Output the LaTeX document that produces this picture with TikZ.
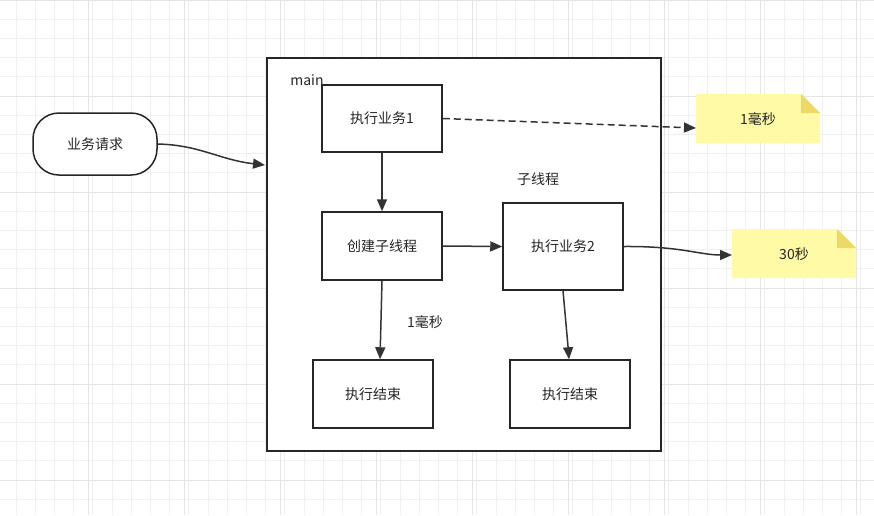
\documentclass[tikz,border=0pt]{standalone}
\usepackage{fontspec}
\setmainfont{Noto Sans CJK SC}
\usetikzlibrary{arrows.meta}
\begin{document}
\begin{tikzpicture}[x=1pt,y=-1pt,
  box/.style={draw=black!85,line width=1.5pt,fill=white,minimum width=120pt,inner sep=0pt,font=\fontsize{14}{16}\selectfont,text=black!85},
  lbl/.style={font=\fontsize{14}{16}\selectfont,text=black!85},
  arr/.style={draw=black!80,line width=1.5pt,-{Triangle[length=12pt,width=10pt]}}]
\useasboundingbox (0,0) rectangle (874,515);
\fill[white] (0,0) rectangle (874,515);
\foreach \i in {0,...,46} {\draw[black!6,line width=0.8pt] ({-3.2+\i*19.2},0) -- ++(0,515);}
\foreach \i in {0,...,27} {\draw[black!6,line width=0.8pt] (0,{\i*19.2}) -- ++(874,0);}
\foreach \i in {0,...,9} {\draw[black!10,line width=1pt] ({-8+\i*96},0) -- ++(0,515);}
\foreach \i in {0,...,5} {\draw[black!10,line width=1pt] (0,{\i*96}) -- ++(874,0);}
\node[box,minimum width=394pt,minimum height=393pt,anchor=north west] (main) at (266,57) {};
\node[lbl] (mainlbl) at (307,80) {main};
\node[box,minimum height=67pt] (t1) at (382,118.5) {执行业务1};
\node[box,minimum height=68pt] (cr) at (382,246) {创建子线程};
\node[box,minimum height=87pt] (t2) at (563,246.5) {执行业务2};
\node[box,minimum height=68pt] (e1) at (373,394) {执行结束};
\node[box,minimum height=68pt] (e2) at (570,394) {执行结束};
\node[box,minimum width=124pt,minimum height=62pt,rounded corners=26pt] (req) at (95,144) {业务请求};
\node[lbl] (sub) at (538,179) {子线程};
\node[lbl] (ms) at (425,322) {1毫秒};
\fill[yellow!35!white] (696,94) -- (801,94) -- (820,113) -- (820,143) -- (696,143) -- cycle;
\fill[yellow!60!brown!70] (801,94) -- (820,113) -- (801,113) -- cycle;
\node[lbl,anchor=center] (n1) at (758,119) {1毫秒};
\fill[yellow!35!white] (732,229) -- (837,229) -- (856,248) -- (856,278) -- (732,278) -- cycle;
\fill[yellow!60!brown!70] (837,229) -- (856,248) -- (837,248) -- cycle;
\node[lbl,anchor=center] (n2) at (794,254) {30秒};
\coordinate (n1w) at (696,128);
\coordinate (n2w) at (732,255);
\coordinate (mainin) at (265,165);
\draw[arr] (req.east) .. controls (200,145) and (220,160) .. (mainin);
\draw[arr,dash pattern=on 7pt off 4pt] (t1.east) -- (n1w);
\draw[arr] (t1.south) -- (cr.north);
\draw[arr] (cr.east) -- (t2.west);
\draw[arr] (t2.east) .. controls (680,246) and (700,255) .. (n2w);
\draw[arr] (cr.south) -- (e1.north -| 380,0);
\draw[arr] (t2.south) .. controls (566,320) .. (e2.north -| 569,0);
\end{tikzpicture}
\end{document}
